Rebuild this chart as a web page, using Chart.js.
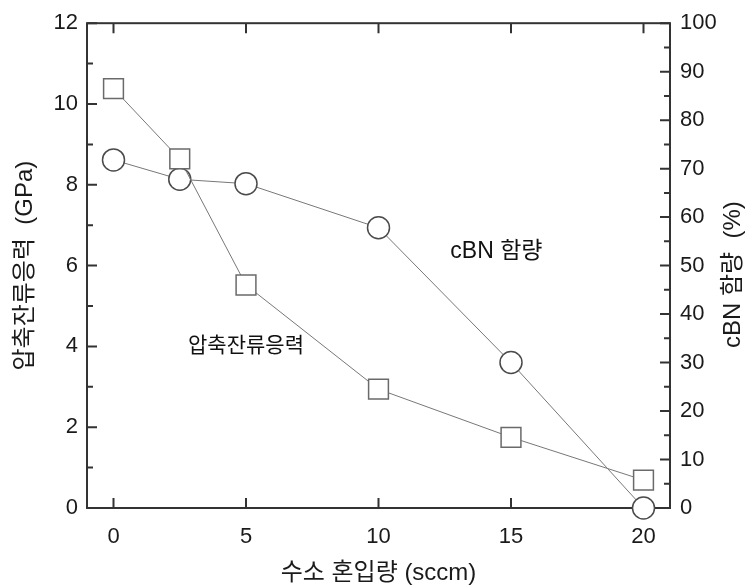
<!DOCTYPE html>
<html>
<head>
<meta charset="utf-8">
<script src="https://cdn.jsdelivr.net/npm/chart.js@4"></script>
<style>
  html, body { margin: 0; padding: 0; background: #fff; }
  #wrap { width: 747px; height: 585px; }
</style>
</head>
<body>
<div id="wrap"><canvas id="chart" width="747" height="585"></canvas></div>
<script>
// data
const hydrogenFlow   = [0, 2.5, 5, 10, 15, 20];               // sccm
const residualStress = [10.38, 8.64, 5.52, 2.94, 1.75, 0.69]; // GPa, left axis
const cbnContent     = [71.8, 67.8, 66.9, 57.8, 30.0, 0];     // %, right axis

const xTicks      = [0, 5, 10, 15, 20];
const stressTicks = [0, 2, 4, 6, 8, 10, 12];
const cbnTicks    = [0, 10, 20, 30, 40, 50, 60, 70, 80, 90, 100];

const xTitle      = '수소 혼입량 (sccm)';
const stressTitle = '압축잔류응력  (GPa)';
const cbnTitle    = 'cBN 함량  (%)';

// in-plot labels, placed in data units (x, left axis y)
const plotLabels = [
  { text: 'cBN 함량', x: 14.45, y: 6.34, size: 23 },
  { text: '압축잔류응력', x: 5.0, y: 4.0, size: 21 }
];

const FONT = "'Liberation Sans', 'Noto Sans CJK KR', sans-serif";
const INK = '#1a1a1a';

// box frame + inward ticks, drawn under the markers
const framePlugin = {
  id: 'frame',
  beforeDatasetsDraw(chart) {
    const { ctx, chartArea: a, scales } = chart;
    ctx.save();
    ctx.strokeStyle = '#333';
    ctx.lineWidth = 2;
    ctx.strokeRect(a.left, a.top, a.right - a.left, a.bottom - a.top);
    ctx.beginPath();
    const seg = (x1, y1, x2, y2) => { ctx.moveTo(x1, y1); ctx.lineTo(x2, y2); };
    xTicks.forEach(v => {
      const px = scales.x.getPixelForValue(v);
      seg(px, a.bottom, px, a.bottom - 10);
      seg(px, a.top, px, a.top + 10);
    });
    stressTicks.forEach((v, i) => {
      const py = scales.y.getPixelForValue(v);
      seg(a.left, py, a.left + 10, py);
      if (i) {
        const m = scales.y.getPixelForValue((v + stressTicks[i - 1]) / 2);
        seg(a.left, m, a.left + 6, m);
      }
    });
    cbnTicks.forEach((v, i) => {
      const py = scales.y1.getPixelForValue(v);
      seg(a.right, py, a.right - 10, py);
      if (i) {
        const m = scales.y1.getPixelForValue((v + cbnTicks[i - 1]) / 2);
        seg(a.right, m, a.right - 6, m);
      }
    });
    ctx.stroke();
    ctx.restore();
  },
  afterDatasetsDraw(chart) {
    const { ctx, scales, chartArea: a } = chart;
    ctx.save();
    ctx.fillStyle = '#111';
    ctx.textAlign = 'center';
    ctx.textBaseline = 'middle';
    plotLabels.forEach(l => {
      ctx.font = l.size + 'px ' + FONT;
      ctx.fillText(l.text, scales.x.getPixelForValue(l.x), scales.y.getPixelForValue(l.y));
    });
    // right axis title reads bottom-to-top, like the left one
    ctx.fillStyle = INK;
    ctx.font = '24px ' + FONT;
    ctx.translate(scales.y1.right - 14, (a.top + a.bottom) / 2 + 9);
    ctx.rotate(-Math.PI / 2);
    ctx.fillText(cbnTitle, 0, 0);
    ctx.restore();
  }
};

const tickFont = { family: FONT, size: 22 };
const titleFont = { family: FONT, size: 24, lineHeight: 1 };

new Chart(document.getElementById('chart'), {
  type: 'line',
  data: {
    datasets: [
      {
        label: '압축잔류응력',
        data: hydrogenFlow.map((x, i) => ({ x, y: residualStress[i] })),
        yAxisID: 'y',
        borderColor: '#777',
        borderWidth: 1,
        pointStyle: 'rect',
        pointRadius: 14,
        pointBorderWidth: 1.5,
        pointBorderColor: '#6a6a6a',
        pointBackgroundColor: '#fff',
        tension: 0,
        clip: false
      },
      {
        label: 'cBN 함량',
        data: hydrogenFlow.map((x, i) => ({ x, y: cbnContent[i] })),
        yAxisID: 'y1',
        borderColor: '#777',
        borderWidth: 1,
        pointStyle: 'circle',
        pointRadius: 11,
        pointBorderWidth: 1.5,
        pointBorderColor: '#4a4a4a',
        pointBackgroundColor: '#fff',
        tension: 0,
        clip: false
      }
    ]
  },
  options: {
    responsive: false,
    devicePixelRatio: 1,
    animation: false,
    layout: { padding: { top: 20, left: 0, right: 0, bottom: 0 } },
    plugins: { legend: { display: false }, tooltip: { enabled: false } },
    scales: {
      x: {
        type: 'linear',
        min: -1,
        max: 21,
        afterBuildTicks: s => { s.ticks = xTicks.map(v => ({ value: v })); },
        afterFit: s => { s.height = 77; },
        grid: { display: false, drawTicks: false },
        border: { display: false },
        ticks: { font: tickFont, color: INK, padding: 16, maxRotation: 0 },
        title: { display: true, text: xTitle, font: titleFont, color: INK, padding: { top: 0, bottom: 0 } }
      },
      y: {
        type: 'linear',
        position: 'left',
        min: 0,
        max: 12,
        afterBuildTicks: s => { s.ticks = stressTicks.map(v => ({ value: v })); },
        afterFit: s => { s.width = 87; },
        grid: { display: false, drawTicks: false },
        border: { display: false },
        ticks: { font: tickFont, color: INK, padding: 9 },
        title: { display: true, text: stressTitle, font: titleFont, color: INK, padding: { top: 13, bottom: 0 } }
      },
      y1: {
        type: 'linear',
        position: 'right',
        min: 0,
        max: 100,
        afterBuildTicks: s => { s.ticks = cbnTicks.map(v => ({ value: v })); },
        afterFit: s => { s.width = 77; },
        grid: { display: false, drawTicks: false },
        border: { display: false },
        ticks: { font: tickFont, color: INK, padding: 10 },
        title: { display: false }
      }
    }
  },
  plugins: [framePlugin]
});
</script>
</body>
</html>
